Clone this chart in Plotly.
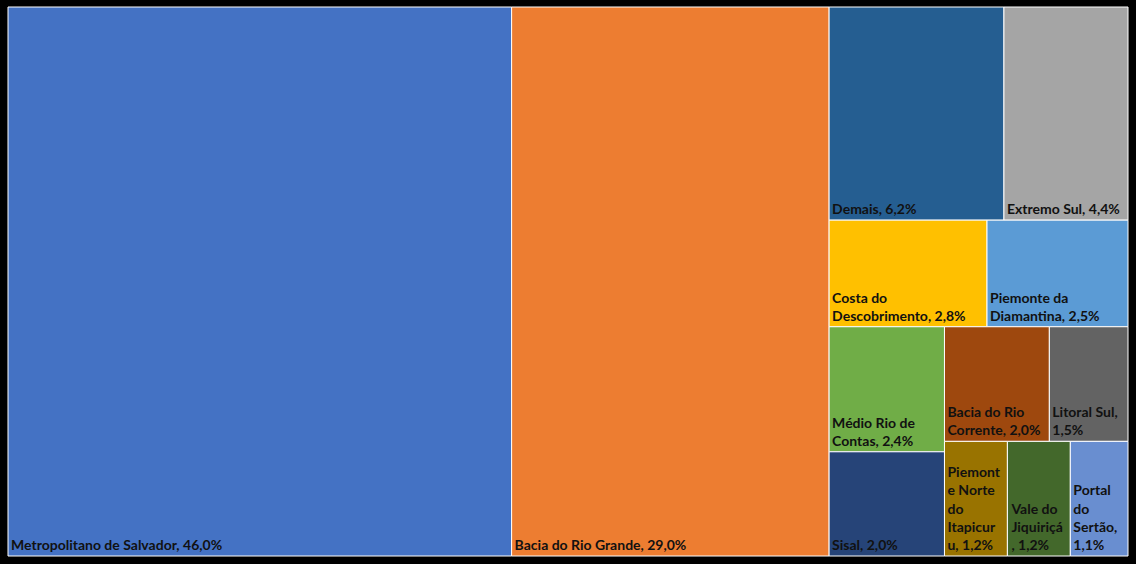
import plotly.graph_objects as go

# Participação das regiões (territórios de identidade) — valores em %
regioes = [
    "Metropolitano de Salvador", "Bacia do Rio Grande", "Demais", "Extremo Sul",
    "Costa do Descobrimento", "Piemonte da Diamantina", "Médio Rio de Contas", "Sisal",
    "Bacia do Rio Corrente", "Litoral Sul", "Piemonte Norte do Itapicuru",
    "Vale do Jiquiriçá", "Portal do Sertão",
]
participacao = [46.0, 29.0, 6.2, 4.4, 2.8, 2.5, 2.4, 2.0, 2.0, 1.5, 1.2, 1.2, 1.1]

# Rótulos com as quebras de linha usadas em cada célula; {} recebe o valor
modelos_rotulo = [
    "Metropolitano de Salvador, {}%", "Bacia do Rio Grande, {}%", "Demais, {}%",
    "Extremo Sul, {}%", "Costa do<br>Descobrimento, {}%", "Piemonte da<br>Diamantina, {}%",
    "Médio Rio de<br>Contas, {}%", "Sisal, {}%", "Bacia do Rio<br>Corrente, {}%",
    "Litoral Sul,<br>{}%", "Piemont<br>e Norte<br>do<br>Itapicur<br>u, {}%",
    "Vale do<br>Jiquiriçá<br>, {}%", "Portal<br>do<br>Sertão,<br>{}%",
]

cores = [
    "#4472C4", "#ED7D31", "#255E91", "#A5A5A5", "#FFC000", "#5B9BD5", "#70AD47",
    "#264478", "#9E480E", "#636363", "#997300", "#43682B", "#698ED0",
]

rotulos = [m.format(f"{v:.1f}".replace(".", ",")) for m, v in zip(modelos_rotulo, participacao)]

fig = go.Figure(
    go.Treemap(
        labels=regioes,
        parents=[""] * len(regioes),
        values=participacao,
        text=rotulos,
        texttemplate="<b>%{text}</b>",
        textposition="bottom left",
        textfont=dict(family="Lato", size=14, color="#111111"),
        sort=False,
        tiling=dict(packing="squarify", squarifyratio=1, pad=0),
        marker=dict(
            colors=cores,
            line=dict(color="white", width=1),
            pad=dict(t=0, l=0, r=0, b=0),
        ),
        pathbar=dict(visible=False),
        hoverinfo="skip",
    )
)

fig.update_layout(
    width=1136,
    height=564,
    paper_bgcolor="black",
    plot_bgcolor="black",
    margin=dict(l=8, r=8, t=7, b=8),
    uniformtext=dict(minsize=14, mode="show"),
)

fig.write_html("out.html")
